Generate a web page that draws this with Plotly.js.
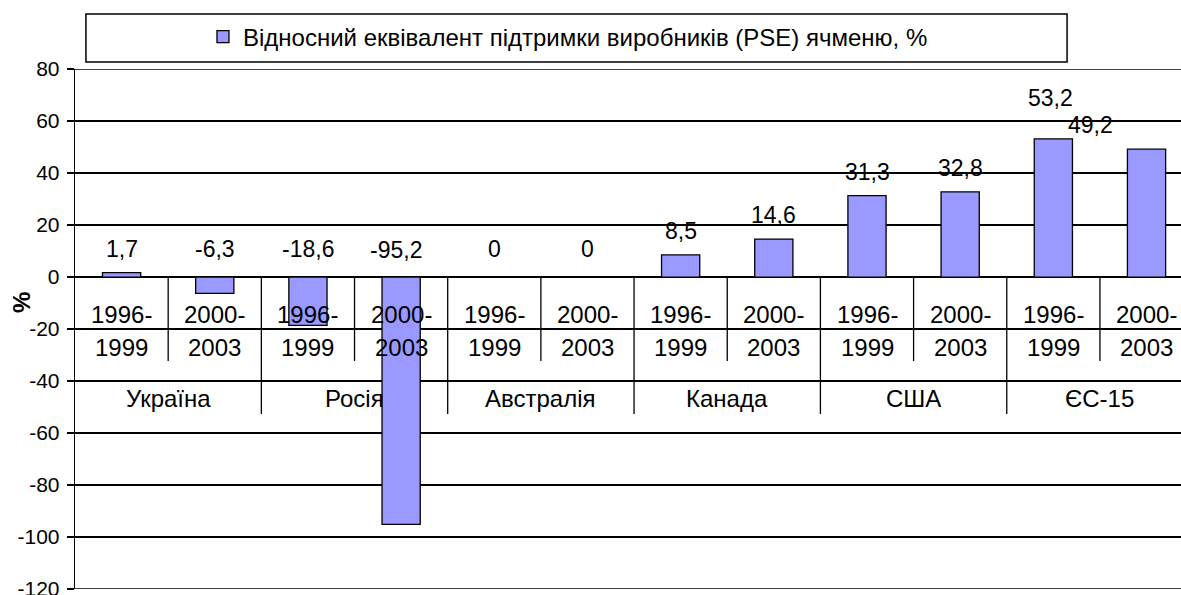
<!DOCTYPE html>
<html>
<head>
<meta charset="utf-8">
<script src="https://cdn.plot.ly/plotly-3.0.1.min.js"></script>
<style>html,body{margin:0;padding:0;background:#fff;overflow:hidden}</style>
</head>
<body>
<div id="chart" style="width:1181px;height:595px"></div>
<script>
// ---- data ----
const countries = ["Україна", "Росія", "Австралія", "Канада", "США", "ЄС-15"];
const periodTop = ["1996-", "2000-"];
const periodBottom = ["1999", "2003"];
const pseValues = [1.7, -6.3, -18.6, -95.2, 0, 0, 8.5, 14.6, 31.3, 32.8, 53.2, 49.2];
const seriesName = "Відносний еквівалент підтримки виробників (PSE) ячменю, %";
const yTicks = [80, 60, 40, 20, 0, -20, -40, -60, -80, -100, -120];

// ---- build ----
const FONT = "Arial, 'Liberation Sans', sans-serif";
const FS_TICK = 21, FS_CAT = 24, FS_LBL = 23, FS_LEG = 24;
const nPer = periodTop.length;
const idx = pseValues.map((_, i) => i);
const yMax = Math.max(...yTicks), yMin = Math.min(...yTicks);

// label nudges (Excel moved these to avoid collision / clipping)
const labelNudge = {10: {dy: 17, dx: -3}, 11: {dy: 0, dx: -56}, 3: {dy: -1, dx: -5}};

const annotations = [];
const shapes = [];

// data labels
pseValues.forEach((v, i) => {
  const n = labelNudge[i] || {dx: 0, dy: 0};
  annotations.push({
    x: i, y: Math.max(v, 0), xref: 'x', yref: 'y',
    text: String(v).replace('.', ','), showarrow: false,
    yanchor: 'middle', xanchor: 'center',
    yshift: (v > 0 ? 24 : 28) + n.dy, xshift: n.dx,
    font: {family: FONT, size: FS_LBL, color: '#000'}
  });
});

// category labels (inner level)
idx.forEach(i => {
  const p = i % nPer;
  annotations.push({x: i, y: 0, xref: 'x', yref: 'y', text: periodTop[p], showarrow: false,
    yanchor: 'middle', yshift: -37, font: {family: FONT, size: FS_CAT, color: '#000'}});
  annotations.push({x: i, y: 0, xref: 'x', yref: 'y', text: periodBottom[p], showarrow: false,
    yanchor: 'middle', yshift: -70, font: {family: FONT, size: FS_CAT, color: '#000'}});
});
// group labels
countries.forEach((c, g) => {
  annotations.push({x: g * nPer + (nPer - 1) / 2, y: 0, xref: 'x', yref: 'y', text: c, showarrow: false,
    yanchor: 'middle', yshift: -121, font: {family: FONT, size: FS_CAT, color: '#000'}});
});
// separators
for (let b = 1; b < pseValues.length; b++) {
  const isGroup = b % nPer === 0;
  shapes.push({type: 'line', xref: 'x', yref: 'y', ysizemode: 'pixel', yanchor: 0,
    x0: b - 0.5, x1: b - 0.5, y0: 0, y1: isGroup ? -137 : -84,
    line: {color: '#000', width: 1.3}});
}
// gridlines at the range ends (Plotly hides them)
[yMax, yMin].forEach(v => {
  shapes.push({type: 'line', xref: 'paper', yref: 'y', x0: 0, x1: 1, y0: v, y1: v,
    line: {color: '#000', width: 1.3}});
});
// legend frame
shapes.push({type: 'rect', xref: 'paper', yref: 'paper', x0: 0.0099, x1: 0.897, y0: 1.0135, y1: 1.1058,
  line: {color: '#000', width: 1.5}, fillcolor: 'rgba(0,0,0,0)'});

// y axis title "%"
annotations.push({xref: 'paper', yref: 'y', x: -0.048, y: -9.6, text: '<b>%</b>', textangle: -90,
  showarrow: false, xanchor: 'center', yanchor: 'middle', font: {family: FONT, size: FS_CAT, color: '#000'}});

const trace = {
  type: 'bar', x: idx, y: pseValues, name: seriesName, width: 0.41,
  marker: {color: '#9999FF', line: {color: '#000', width: 1.3}},
  hoverinfo: 'y', cliponaxis: true
};

const layout = {
  width: 1181, height: 595,
  margin: {l: 75, r: 0, t: 69, b: 6, pad: 0},
  paper_bgcolor: '#fff', plot_bgcolor: '#fff',
  font: {family: FONT, size: FS_TICK, color: '#000'},
  showlegend: true,
  legend: {x: 0.1157, xanchor: 'left', y: 1.0615, yanchor: 'middle', bgcolor: 'rgba(0,0,0,0)',
    borderwidth: 0, font: {family: FONT, size: FS_LEG, color: '#000'}},
  xaxis: {range: [-0.5, 11.37], showticklabels: false, showgrid: false, zeroline: false, showline: false, fixedrange: true},
  yaxis: {range: [yMin - 0.05, yMax + 0.05], tickvals: yTicks, ticktext: yTicks.map(String), showgrid: true, gridcolor: '#000', gridwidth: 1.3,
    zeroline: true, zerolinecolor: '#000', zerolinewidth: 1.3, showline: true, linecolor: '#000', linewidth: 1.3,
    ticks: 'outside', ticklen: 7, tickcolor: '#000', tickwidth: 1.3, ticklabelstandoff: 3,
    ticklabeloverflow: 'allow',
    tickfont: {family: FONT, size: FS_TICK, color: '#000'}, fixedrange: true},
  annotations: annotations,
  shapes: shapes
};

Plotly.newPlot('chart', [trace], layout, {displayModeBar: false, staticPlot: true});
</script>
</body>
</html>
